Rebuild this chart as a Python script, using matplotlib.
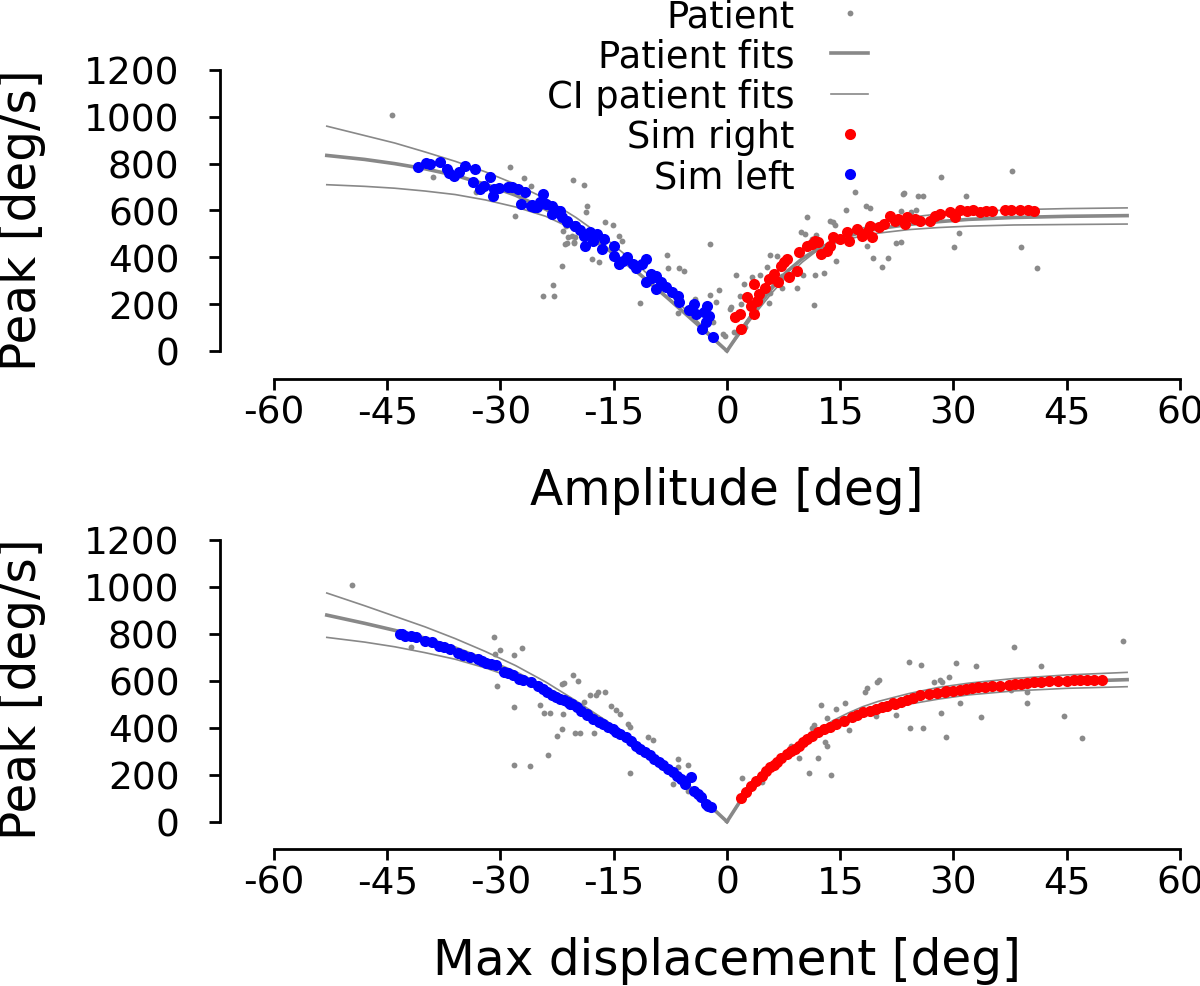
import matplotlib
matplotlib.use("Agg")
import matplotlib.pyplot as plt
from matplotlib.lines import Line2D

plt.rcParams['font.family'] = ['DejaVu Sans']
plt.rcParams['axes.unicode_minus'] = False

# ---------------- data ----------------
fit_x_left = [-53, -48, -44, -40, -36, -32, -28, -24, -20, -16, -12, -8, -4, 0]
fit_x_right = [0, 2, 4, 6, 8, 10, 12, 14, 16, 18, 20, 24, 28, 32, 38, 45, 53]

top_fit_left = [835, 818, 800, 778, 750, 712, 665, 605, 530, 440, 340, 230, 116, 0]
top_ci_hi_left = [960, 920, 888, 850, 810, 765, 712, 650, 570, 478, 372, 255, 130, 0]
top_ci_lo_left = [710, 703, 695, 683, 668, 645, 615, 575, 515, 435, 340, 235, 120, 0]
top_fit_right = [0, 95, 185, 270, 340, 395, 435, 465, 490, 508, 522, 540, 552, 562, 570, 575, 578]
top_ci_hi_right = [0, 85, 170, 250, 320, 380, 430, 470, 500, 525, 545, 570, 585, 595, 603, 608, 611]
top_ci_lo_right = [0, 100, 195, 280, 345, 395, 432, 458, 477, 492, 503, 518, 527, 533, 538, 540, 542]

bot_fit_left = [880, 845, 815, 782, 740, 690, 635, 570, 500, 425, 335, 235, 120, 0]
bot_ci_hi_left = [974, 920, 875, 830, 780, 725, 665, 595, 515, 430, 335, 232, 118, 0]
bot_ci_lo_left = [785, 765, 745, 720, 692, 655, 610, 555, 490, 418, 332, 235, 122, 0]
bot_fit_right = [0, 100, 170, 230, 290, 340, 385, 420, 445, 470, 490, 523, 548, 567, 585, 597, 605]
bot_ci_hi_right = [0, 95, 160, 222, 285, 340, 388, 430, 462, 490, 512, 545, 572, 590, 610, 625, 636]
bot_ci_lo_right = [0, 105, 178, 238, 293, 340, 382, 410, 432, 450, 468, 500, 522, 540, 557, 568, 575]

top_patient_x = [-44.4, -39.0, -33.3, -28.8, -26.9, -25.9, -28.1, -20.4, -21.7, -21.0, -20.1, -21.2,
                 -20.2, -21.8, -23.1, -24.4, -22.9, -18.9, -18.5, -18.7, -21.3, -20.5, -21.4, -20.3,
                 -16.1, -15.1, -14.3, -13.9, -17.9, -17.0, -8.0, -7.8, -6.3, -5.7, -2.3, -11.5,
                 -6.5, -4.2, -2.3, -1.4, -1.1, -1.9, -0.5, 1.2, 0.5, 1.7,
                 17.0, 23.4, 15.8, 18.4, 18.9, 10.6, 14.1, 14.3, 23.1, 10.4, 11.2, 11.8, 18.5, 19.4,
                 20.5, 21.3, 22.4, 14.5, 12.8, 11.7, 10.1, 9.3, 11.5, 5.7, 6.6, 5.3, 4.4, 3.3,
                 2.3, 5.7, 5.6, 7.3, 1.9, 0.4, 0.9, -0.2, 2.4, 28.4, 37.7, 23.3, 25.3, 25.9,
                 31.6, 25.1, 24.4, 30.7, 30.1, 38.9, 41.0, 23.0, 13.6, 9.8, 7.3]
top_patient_y = [1009, 742, 679, 784, 737, 706, 578, 731, 514, 486, 486, 460,
                 460, 364, 282, 236, 236, 710, 620, 592, 535, 492, 457, 464,
                 552, 538, 490, 471, 393, 379, 410, 356, 356, 343, 457, 204,
                 162, 222, 239, 208, 262, 122, 73, 324, 187, 236,
                 678, 673, 602, 619, 612, 571, 552, 538, 599, 500, 478, 495, 450, 396,
                 357, 396, 461, 386, 333, 324, 324, 268, 196, 410, 404, 357, 324, 317,
                 286, 248, 205, 268, 200, 179, 80, 65, 101, 742, 767, 670, 663, 663,
                 660, 603, 592, 504, 444, 445, 353, 464, 556, 508, 322]

top_sim_left_x = [-40.9, -39.8, -38.0, -37.1, -36.2, -34.7, -33.4, -33.6, -32.7, -31.4, -30.9, -31.0,
                  -29.0, -27.7, -26.8, -27.3, -26.0, -25.2, -24.3, -24.7, -23.2, -22.3, -23.2, -21.2,
                  -20.1, -22.1, -21.2, -20.1, -19.0, -18.1, -17.2, -16.3, -18.8, -16.5, -15.0, -15.0,
                  -14.3, -13.2, -12.5, -11.2, -10.7, -10.7, -10.1, -9.4, -8.7, -9.4, -8.1, -6.5,
                  -6.3, -4.3, -4.1, -2.6, -2.8, -3.3, -1.9, -35.5, -28.5, -25.8, -19.5, -13.8,
                  -39.3, -36.8, -32.2, -30.2, -25.5, -24.0, -21.8, -17.8, -12.0, -9.9, -7.3, -5.0,
                  -3.0, -2.4]
top_sim_left_y = [786, 803, 806, 777, 746, 791, 777, 720, 692, 742, 692, 663,
                  699, 692, 678, 628, 621, 613, 670, 635, 621, 599, 585, 550,
                  535, 599, 556, 535, 492, 507, 500, 478, 450, 436, 450, 407,
                  371, 400, 371, 371, 393, 293, 329, 322, 293, 265, 272, 236,
                  207, 200, 158, 193, 122, 94, 58, 765, 700, 625, 515, 385,
                  800, 760, 705, 695, 615, 628, 570, 470, 355, 310, 250, 175,
                  165, 150]

top_sim_right_x = [1.1, 1.9, 1.7, 3.2, 3.6, 3.6, 4.3, 5.6, 6.7, 7.1, 8.0, 8.2, 9.3, 9.5, 10.6,
                   12.1, 12.4, 13.2, 14.1, 15.9, 16.1, 17.2, 17.9, 19.0, 19.2, 20.8, 21.6, 22.7,
                   23.8, 24.9, 23.6, 25.6, 26.9, 28.2, 29.5, 30.2, 30.9, 32.6, 33.5, 35.1, 36.8,
                   38.8, 39.9, 40.7, 2.6, 5.0, 11.2, 18.5, 4.0, 6.2, 7.6, 11.6, 13.6, 15.0,
                   20.2, 22.2, 27.5, 31.8, 34.3, 37.6]
top_sim_right_y = [144, 94, 158, 193, 158, 286, 243, 307, 293, 364, 393, 315, 343, 421, 450,
                   464, 414, 428, 486, 507, 471, 521, 492, 535, 486, 542, 578, 564,
                   571, 564, 542, 556, 556, 585, 592, 571, 603, 603, 592, 599, 603,
                   603, 603, 599, 230, 270, 455, 510, 215, 330, 380, 470, 450, 480,
                   530, 555, 575, 598, 597, 603]

bot_patient_x = [-49.7, -41.9, -30.8, -30.0, -30.7, -28.2, -27.2, -30.4, -28.2, -28.2, -26.1, -23.7,
                 -24.8, -24.2, -23.4, -21.9, -20.4, -21.7, -21.8, -22.5, -20.1, -18.1, -19.7, -21.6,
                 -17.1, -17.4, -16.2, -19.0, -15.4, -14.7, -14.2, -19.5, -17.6, -13.1, -12.8, -10.4,
                 -9.8, -12.8, -6.5, -6.5, -5.2, -7.2, -5.2,
                 2.0, 4.6, 12.4, 14.4, 15.7, 13.2, 11.5, 11.3, 13.0, 13.3, 8.5, 9.5, 12.1, 10.9,
                 13.8, 16.2, 18.3, 18.6, 19.9, 20.2, 24.1, 25.7, 19.7, 22.4, 24.2, 25.9,
                 30.4, 33.0, 38.0, 41.6, 52.5, 27.4, 28.2, 28.5, 29.4, 30.9, 39.8, 39.8, 37.6,
                 28.3, 33.6, 44.7, 29.0, 47.0]
bot_patient_y = [1010, 743, 786, 733, 714, 711, 740, 579, 488, 241, 239, 285,
                 499, 464, 464, 588, 624, 459, 393, 366, 377, 541, 601, 590,
                 551, 540, 554, 511, 494, 477, 459, 377, 377, 416, 402, 360,
                 348, 206, 267, 232, 242, 161, 132,
                 186, 170, 497, 480, 504, 442, 412, 398, 338, 324, 324, 270, 270, 207,
                 199, 392, 551, 570, 594, 605, 679, 668, 452, 455, 398, 398,
                 674, 665, 743, 662, 768, 594, 605, 596, 615, 506, 554, 506, 562,
                 463, 447, 449, 361, 355]

bot_sim_left_x = [-43.3, -42.6, -41.2, -40.0, -39.1, -38.2, -36.7, -35.6, -34.1, -33.0, -31.9, -30.6,
                  -29.5, -28.4, -27.5, -26.0, -23.8, -22.7, -21.6, -20.5, -22.1, -20.8, -19.3, -17.8,
                  -16.4, -15.1, -14.2, -13.4, -12.0, -10.9, -9.6, -8.5, -7.2, -6.1, -4.8, -4.3,
                  -3.4, -2.1, -2.8, -25.0, -24.4, -18.5, -11.5, -5.5,
                  -43.0, -41.8, -37.5, -35.0, -32.5, -31.2, -29.0, -27.0, -23.2, -21.0, -19.8,
                  -18.6, -17.0, -15.7, -14.7, -12.7, -10.2, -9.0, -7.8, -6.6, -3.9, -2.5]
bot_sim_left_y = [800, 792, 788, 771, 764, 747, 736, 719, 700, 693, 676, 667,
                  636, 625, 608, 594, 551, 530, 518, 501, 523, 501, 473, 437,
                  416, 395, 374, 360, 324, 296, 267, 242, 210, 182, 189, 132,
                  104, 61, 75, 578, 565, 455, 310, 160,
                  798, 790, 742, 712, 685, 672, 632, 603, 540, 510, 490,
                  458, 425, 405, 384, 342, 282, 255, 226, 196, 118, 68]

bot_sim_right_x = [1.9, 3.2, 4.6, 5.7, 6.6, 7.9, 9.0, 10.1, 11.2, 12.9, 14.5, 16.5, 18.0, 19.8,
                   21.2, 23.1, 24.7, 25.6, 27.8, 30.0, 31.6, 33.3, 35.1, 37.3, 38.9, 40.7, 42.6,
                   45.0, 46.8, 48.6, 49.7, 2.5, 8.5, 13.7, 17.2, 22.0, 29.0, 36.2, 43.8,
                   3.9, 5.2, 6.2, 7.2, 9.5, 10.6, 12.0, 15.5, 18.9, 20.5, 22.2, 23.9, 26.7,
                   28.9, 30.8, 32.4, 34.2, 38.1, 39.8, 41.6, 46.0, 47.7]
bot_sim_right_y = [100, 153, 196, 232, 253, 288, 310, 338, 366, 395, 416, 445, 466, 480,
                   494, 511, 526, 540, 548, 558, 565, 572, 579, 582, 587, 594, 598,
                   601, 604, 605, 605, 125, 300, 405, 455, 505, 555, 580, 600,
                   175, 214, 243, 270, 324, 352, 380, 430, 473, 487, 503, 518, 544,
                   553, 561, 568, 575, 585, 590, 596, 602, 604]

x_ticks = [-60, -45, -30, -15, 0, 15, 30, 45, 60]
y_ticks = [0, 200, 400, 600, 800, 1000, 1200]

# ---------------- styling ----------------
GRAY_DOT = '#8a8a8a'
GRAY_LINE = '#888888'
SIM_MS = 8.0
PAT_MS = 4.2

fig = plt.figure(figsize=(12, 9.87), dpi=100)
ax1 = fig.add_axes([0.2283, 0.6434, 0.755, 0.2847])
ax2 = fig.add_axes([0.2283, 0.1665, 0.755, 0.2854])

panels = [
    (ax1, top_patient_x, top_patient_y, top_fit_left, top_ci_hi_left, top_ci_lo_left,
     top_fit_right, top_ci_hi_right, top_ci_lo_right, top_sim_right_x, top_sim_right_y,
     top_sim_left_x, top_sim_left_y, 'Amplitude [deg]', -0.495, 0.47),
    (ax2, bot_patient_x, bot_patient_y, bot_fit_left, bot_ci_hi_left, bot_ci_lo_left,
     bot_fit_right, bot_ci_hi_right, bot_ci_lo_right, bot_sim_right_x, bot_sim_right_y,
     bot_sim_left_x, bot_sim_left_y, 'Max displacement [deg]', -0.492, 0.475),
]

for (ax, px, py, fl, chl, cll, fr, chr_, clr, srx, sry, slx, sly, xlabel, xly, yly) in panels:
    ax.plot(px, py, 'o', color=GRAY_DOT, markersize=PAT_MS, markeredgewidth=0, zorder=2)
    for ys in (chl, cll):
        ax.plot(fit_x_left, ys, '-', color=GRAY_LINE, lw=1.2, zorder=3)
    for ys in (chr_, clr):
        ax.plot(fit_x_right, ys, '-', color=GRAY_LINE, lw=1.2, zorder=3)
    ax.plot(fit_x_left, fl, '-', color=GRAY_LINE, lw=2.6, zorder=3)
    ax.plot(fit_x_right, fr, '-', color=GRAY_LINE, lw=2.6, zorder=3)
    ax.plot(srx, sry, 'o', color='#ff0000', markersize=SIM_MS, markeredgewidth=0, zorder=4)
    ax.plot(slx, sly, 'o', color='#0000ff', markersize=SIM_MS, markeredgewidth=0, zorder=4)

    ax.set_xlim(-60, 60)
    ax.set_ylim(0, 1200)
    ax.set_xticks(x_ticks)
    ax.set_xticklabels([str(t) for t in x_ticks])
    ax.set_yticks(y_ticks)
    ax.set_yticklabels([str(t) for t in y_ticks])
    for s in ('top', 'right'):
        ax.spines[s].set_visible(False)
    ax.spines['left'].set_position(('outward', 39))
    ax.spines['bottom'].set_position(('outward', 20))
    ax.spines['left'].set_linewidth(2)
    ax.spines['bottom'].set_linewidth(2)
    ax.spines['left'].set_bounds(0, 1200)
    ax.spines['bottom'].set_bounds(-60, 60)
    ax.tick_params(axis='y', labelsize=27, length=8, width=2, pad=21, direction='out')
    ax.tick_params(axis='x', labelsize=27, length=8, width=2, pad=3, direction='out')
    ax.set_xlabel(xlabel, fontsize=35, va='center')
    ax.set_ylabel('Peak [deg/s]', fontsize=35, va='center', ha='center')
    ax.xaxis.set_label_coords(0.5, xly)
    ax.yaxis.set_label_coords(-0.278, yly)
    for ln in ax.lines:
        ln.set_clip_on(False)

handles = [
    Line2D([], [], ls='none', marker='o', color=GRAY_DOT, markersize=PAT_MS, markeredgewidth=0),
    Line2D([], [], ls='-', color=GRAY_LINE, lw=2.6),
    Line2D([], [], ls='-', color=GRAY_LINE, lw=1.2),
    Line2D([], [], ls='none', marker='o', color='#ff0000', markersize=SIM_MS, markeredgewidth=0),
    Line2D([], [], ls='none', marker='o', color='#0000ff', markersize=SIM_MS, markeredgewidth=0),
]
labels = ['Patient', 'Patient fits', 'CI patient fits', 'Sim right', 'Sim left']
ax1.legend(handles, labels, loc='upper right', bbox_to_anchor=(0.7233, 1.002),
           bbox_transform=fig.transFigure, frameon=False, markerfirst=False,
           fontsize=26.5, handlelength=1.0, handletextpad=1.0, labelspacing=0.09,
           borderpad=0, borderaxespad=0)

fig.savefig('out.png', dpi=100)
